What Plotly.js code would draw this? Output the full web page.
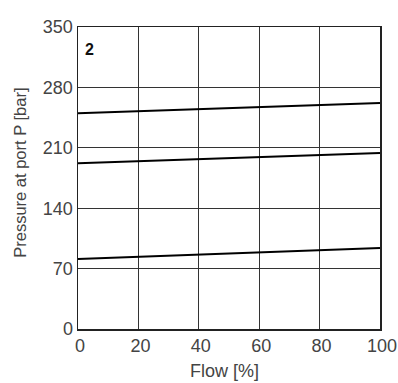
<!DOCTYPE html>
<html>
<head>
<meta charset="utf-8">
<script src="https://cdn.plot.ly/plotly-3.0.1.min.js"></script>
<style>html,body{margin:0;padding:0;background:#fff;}#chart{width:398px;height:383px;}</style>
</head>
<body>
<div id="chart"></div>
<script>
const flow = [0, 100];
const curveHigh = [250, 262];
const curveMid = [192, 204];
const curveLow = [81, 94];
const xTicks = [0, 20, 40, 60, 80, 100];
const yTicks = [0, 70, 140, 210, 280, 350];
const xTitle = 'Flow [%]';
const yTitle = 'Pressure at port P [bar]';
const panelLabel = '2';

const lineStyle = {color: '#000', width: 2};
const traces = [curveHigh, curveMid, curveLow].map(v => ({
  x: flow, y: v, type: 'scatter', mode: 'lines', line: lineStyle, hoverinfo: 'skip'
}));

const fontFam = '"Liberation Sans", Arial, sans-serif';
const txtColor = '#444';
const layout = {
  width: 398, height: 383,
  margin: {l: 78, r: 18, t: 27, b: 54},
  paper_bgcolor: '#fff', plot_bgcolor: '#fff',
  showlegend: false,
  font: {family: fontFam, size: 16, color: txtColor},
  xaxis: {
    range: [0, 100], tickvals: xTicks, ticktext: xTicks.map(String),
    showgrid: true, gridcolor: '#333', gridwidth: 1.2,
    showline: true, linecolor: '#222', linewidth: 1.5, mirror: true,
    zeroline: false, ticks: '', ticklen: 0, ticklabelshift: 2,
    tickfont: {size: 18, color: txtColor}
  },
  yaxis: {
    range: [0, 350], tickvals: yTicks, ticktext: yTicks.map(String),
    showgrid: true, gridcolor: '#333', gridwidth: 1.2,
    showline: true, linecolor: '#222', linewidth: 1.5, mirror: true,
    zeroline: false, ticks: '', ticklen: 0,
    tickfont: {size: 18, color: txtColor}
  },
  annotations: [
    {
      text: '<b>' + panelLabel + '</b>', x: 0.016, y: 0.927, xref: 'paper', yref: 'paper',
      xanchor: 'left', yanchor: 'middle', showarrow: false,
      font: {size: 16, color: '#111', family: fontFam}
    },
    {
      text: xTitle, x: 0.484, y: -0.140, xref: 'paper', yref: 'paper',
      xanchor: 'center', yanchor: 'middle', showarrow: false,
      font: {size: 18, color: txtColor, family: fontFam}
    },
    {
      text: yTitle, x: -0.190, y: 0.516, xref: 'paper', yref: 'paper', textangle: -90,
      xanchor: 'center', yanchor: 'middle', showarrow: false,
      font: {size: 16.5, color: txtColor, family: fontFam}
    }
  ]
};
Plotly.newPlot('chart', traces, layout, {staticPlot: true, displayModeBar: false});
</script>
</body>
</html>
